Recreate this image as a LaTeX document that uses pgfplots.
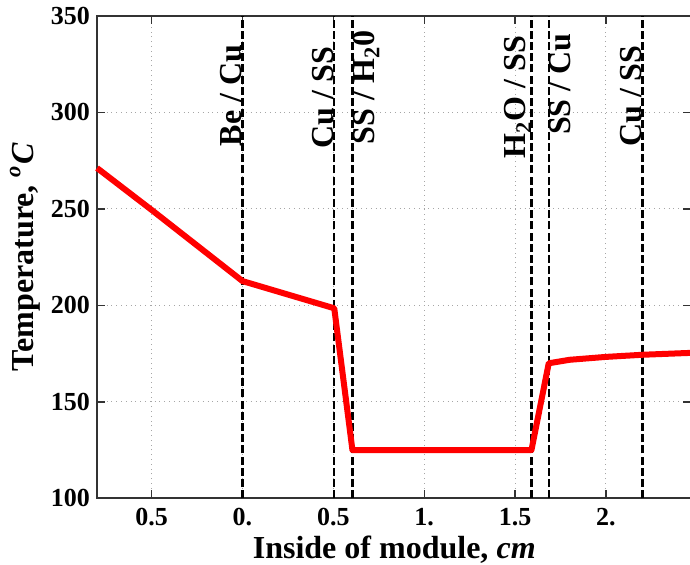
\documentclass[border=0pt]{standalone}
\usepackage{pgfplots}
\pgfplotsset{compat=1.18}
\usepackage{fontspec}
\setmainfont{Liberation Serif}

\pgfplotsset{iface/.style={black, line width=1.2pt, dash pattern=on 4pt off 1.6pt, forget plot}}
\tikzset{lbl/.style={font=\fontsize{16}{18}\selectfont\bfseries, rotate=90, inner sep=0pt}}

\begin{document}
\begin{tikzpicture}
\begin{axis}[
    scale only axis,
    width=297pt, height=241pt,
    xmin=-0.8, xmax=2.47,
    ymin=100, ymax=350,
    xtick={-0.5,0,0.5,1,1.5,2},
    xticklabels={0.5,0.,0.5,1.,1.5,2.},
    ytick={100,150,200,250,300,350},
    /pgf/number format/assume math mode=true,
    tick label style={font=\fontsize{13}{15}\selectfont\bfseries},
    xticklabel style={yshift=-1.5pt},
    xmajorgrids, ymajorgrids,
    grid style={dotted, gray!70, line width=0.5pt},
    axis line style={line width=0.9pt, black!80},
    major tick length=4pt,
    tick style={black!80, line width=0.7pt},
    xlabel={Inside of module, \textit{cm}},
    ylabel={Temperature, \textsuperscript{\textit{o}}\textit{C}},
    label style={font=\fontsize{16}{18}\selectfont\bfseries},
    xlabel style={at={(axis description cs:0.5,-0.1245)}, anchor=base},
    ylabel style={at={(axis description cs:-0.1214,0.5)}, anchor=center},
    clip=false
]
% interface positions
\addplot[iface] coordinates {(0,100)(0,350)};
\addplot[iface] coordinates {(0.505,100)(0.505,350)};
\addplot[iface] coordinates {(0.605,100)(0.605,350)};
\addplot[iface] coordinates {(1.59,100)(1.59,350)};
\addplot[iface] coordinates {(1.685,100)(1.685,350)};
\addplot[iface] coordinates {(2.2,100)(2.2,350)};

% temperature profile
\addplot[red, line width=3pt, line join=round] coordinates {
  (-0.80,271.2)(-0.5,249.5)(0,212.6)(0.505,198.5)(0.605,125)
  (1.59,125)(1.685,170)(1.8,171.8)(2.0,173.3)(2.2,174.4)(2.47,175.4)
};

\node[lbl, anchor=south east, xshift=-4.5pt] at (axis cs:0,340) {Be / Cu};
\node[lbl, anchor=south east, xshift=-5pt] at (axis cs:0.505,339.5) {Cu / SS};
\node[lbl, anchor=north east, xshift=1.2pt] at (axis cs:0.605,341.5) {SS / H\textsubscript{2}0};
\node[lbl, anchor=south east, xshift=-5pt] at (axis cs:1.59,345) {H\textsubscript{2}O / SS};
\node[lbl, anchor=north east, xshift=2.5pt] at (axis cs:1.685,338.6) {SS / Cu};
\node[lbl, anchor=south east, xshift=-3.5pt] at (axis cs:2.2,338.6) {Cu / SS};
\end{axis}
\pgfresetboundingbox
\path[use as bounding box] (-48.5pt,-33pt) rectangle (296.3pt,249pt);
\end{tikzpicture}
\end{document}
